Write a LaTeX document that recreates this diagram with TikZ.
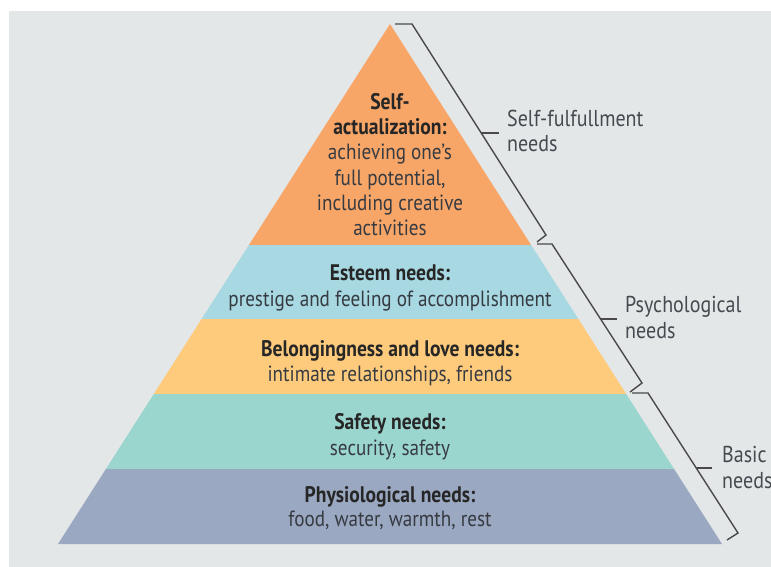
\documentclass[tikz,border=0pt]{standalone}
\usepackage{fontspec}
\setmainfont{PT Sans}[FakeStretch=0.87]
\begin{document}
\definecolor{panel}{HTML}{E4E7E8}
\definecolor{tierA}{HTML}{F8A668}
\definecolor{tierB}{HTML}{A8D8E2}
\definecolor{tierC}{HTML}{FECB7C}
\definecolor{tierD}{HTML}{9BD6CE}
\definecolor{tierE}{HTML}{9BA8C2}
\definecolor{bracecol}{HTML}{4A4A4A}
\definecolor{headcol}{HTML}{262626}
\definecolor{bodycol}{HTML}{363B42}
\definecolor{sidecol}{HTML}{454A50}
\begin{tikzpicture}[x=1pt,y=-1pt,
  head/.style={anchor=base,inner sep=0pt,font=\fontsize{22.5}{26}\selectfont\bfseries,text=headcol},
  body/.style={anchor=base,inner sep=0pt,font=\fontsize{22}{26}\selectfont,text=bodycol},
  side/.style={anchor=base west,inner sep=0pt,font=\fontsize{23}{26}\selectfont,text=sidecol},
  bracket/.style={draw=bracecol,line width=1.4pt,line join=miter}]
% page and grey panel
\useasboundingbox (0,0) rectangle (771,567);
\fill[white] (0,0) rectangle (771,567);
\fill[panel] (9,11) rectangle (771,567);

% pyramid corners, tier by tier
\coordinate (apex) at (390,24);
\coordinate (aL) at (248.9,245); \coordinate (aR) at (531.1,245);
\coordinate (bL) at (201.6,319); \coordinate (bR) at (578.4,319);
\coordinate (cL) at (153.8,394); \coordinate (cR) at (626.2,394);
\coordinate (dL) at (105.9,469); \coordinate (dR) at (674.1,469);
\coordinate (eL) at (58,544);    \coordinate (eR) at (722,544);

\fill[tierA] (apex) -- (aR) -- (aL) -- cycle;
\fill[tierB] (aL) -- (aR) -- (bR) -- (bL) -- cycle;
\fill[tierC] (bL) -- (bR) -- (cR) -- (cL) -- cycle;
\fill[tierD] (cL) -- (cR) -- (dR) -- (dL) -- cycle;
\fill[tierE] (dL) -- (dR) -- (eR) -- (eL) -- cycle;

% tier texts
\node[head] (sa1) at (390,110) {Self-};
\node[head] (sa2) at (390,135) {actualization:};
\node[body] (sa3) at (390,160) {achieving one’s};
\node[body] (sa4) at (390,185) {full potential,};
\node[body] (sa5) at (390,210) {including creative};
\node[body] (sa6) at (390,235) {activities};

\node[head] (es1) at (390,280) {Esteem needs:};
\node[body] (es2) at (390,306) {prestige and feeling of accomplishment};

\node[head] (bl1) at (390,356) {Belongingness and love needs:};
\node[body] (bl2) at (390,381) {intimate relationships, friends};

\node[head] (sf1) at (390,429) {Safety needs:};
\node[body] (sf2) at (390,455) {security, safety};

\node[head] (ph1) at (390,502) {Physiological needs:};
\node[body] (ph2) at (390,526) {food, water, warmth, rest};

% side brackets
\coordinate (b1a) at (395,24);  \coordinate (b1b) at (412,24);
\coordinate (b1c) at (546,235); \coordinate (b1d) at (537,242);
\coordinate (b1m) at (481.2,133); \coordinate (b1t) at (499,133);
\draw[bracket] (b1a) -- (b1b) -- (b1c) -- (b1d);
\draw[bracket] (b1m) -- (b1t);

\coordinate (b2a) at (537,244); \coordinate (b2b) at (552,244);
\coordinate (b2c) at (642,383); \coordinate (b2d) at (630,392);
\coordinate (b2m) at (600.6,319); \coordinate (b2t) at (617,319);
\draw[bracket] (b2a) -- (b2b) -- (b2c) -- (b2d);
\draw[bracket] (b2m) -- (b2t);

\coordinate (b3a) at (632,393); \coordinate (b3b) at (648,393);
\coordinate (b3c) at (738,533); \coordinate (b3d) at (727,540);
\coordinate (b3m) at (696.2,468); \coordinate (b3t) at (712,468);
\draw[bracket] (b3a) -- (b3b) -- (b3c) -- (b3d);
\draw[bracket] (b3m) -- (b3t);

% bracket labels
\node[side] (lb1a) at (507,127) {Self-fulfullment};
\node[side] (lb1b) at (507,152) {needs};
\node[side] (lb2a) at (625,312) {Psychological};
\node[side] (lb2b) at (625,338) {needs};
\node[side] (lb3a) at (722,462) {Basic};
\node[side] (lb3b) at (722,488) {needs};
\end{tikzpicture}
\end{document}
